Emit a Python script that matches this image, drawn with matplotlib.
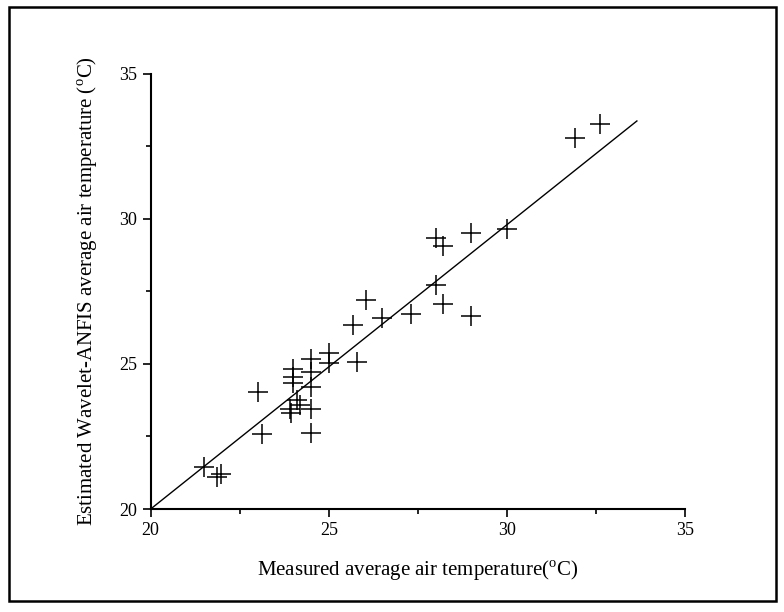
import matplotlib
matplotlib.use('Agg')
import matplotlib.pyplot as plt
from matplotlib.patches import Rectangle

# ── data ──────────────────────────────────────────────────────────────────────
measured = [21.50, 21.87, 21.97, 23.00, 23.13, 23.90, 23.95, 24.00, 24.00, 24.00,
            24.10, 24.20, 24.50, 24.50, 24.50, 24.50, 24.50, 25.00, 25.00, 25.80,
            25.69, 26.05, 26.50, 27.31, 28.00, 28.20, 29.00, 28.00, 28.20, 29.00,
            30.00, 31.92, 32.62]
estimated = [21.46, 21.11, 21.21, 24.04, 22.59, 23.45, 23.30, 24.82, 24.56, 24.33,
             23.76, 23.60, 25.16, 24.73, 24.22, 23.45, 22.63, 25.37, 25.02, 25.06,
             26.35, 27.20, 26.58, 26.71, 27.72, 27.06, 26.67, 29.36, 29.08, 29.51,
             29.64, 32.78, 33.27]

fit_x = [20.0, 33.65]
fit_y = [20.0, 33.38]

ticks = [20, 25, 30, 35]

# ── plot ──────────────────────────────────────────────────────────────────────
plt.rcParams['font.family'] = ['Liberation Serif', 'DejaVu Serif']
plt.rcParams['mathtext.fontset'] = 'custom'
plt.rcParams['mathtext.rm'] = 'Liberation Serif'

fig = plt.figure(figsize=(7.84, 6.12), dpi=100)
ax = fig.add_axes([0.1922, 0.1683, 0.6815, 0.7108])

ax.plot(measured, estimated, linestyle='none', marker='+', markersize=14,
        markeredgewidth=1.1, color='black')
ax.plot(fit_x, fit_y, color='black', linewidth=1.0)

ax.set_xlim(20, 35)
ax.set_ylim(20, 35)
ax.set_xticks(ticks)
ax.set_yticks(ticks)
ax.set_xticks([22.5, 27.5, 32.5], minor=True)
ax.set_yticks([22.5, 27.5, 32.5], minor=True)
ax.tick_params(which='major', direction='out', length=6, width=1.2, labelsize=13)
ax.tick_params(which='minor', direction='out', length=3.5, width=1.2)

for s in ['top', 'right']:
    ax.spines[s].set_visible(False)
for s in ['left', 'bottom']:
    ax.spines[s].set_linewidth(1.5)

ax.set_xlabel(r'Measured average air temperature($^{\rm o}$C)', fontsize=15, labelpad=14)
ax.set_ylabel(r'Estimated Wavelet-ANFIS average air temperature ($^{\rm o}$C)',
              fontsize=15, labelpad=14)

# outer frame
fig.patches.append(Rectangle((0.011, 0.018), 0.979, 0.970, transform=fig.transFigure,
                             fill=False, edgecolor='black', linewidth=1.8))

fig.savefig('out.png', dpi=100)
